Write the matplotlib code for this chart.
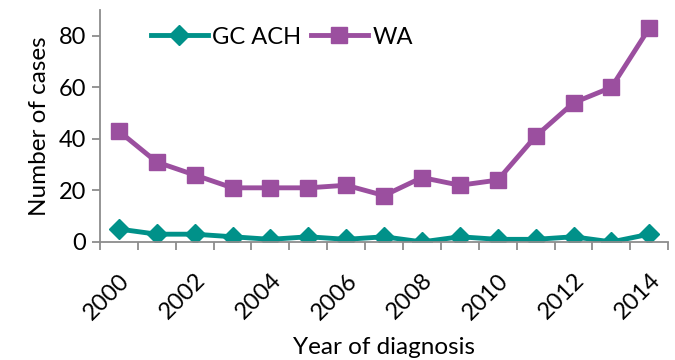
import matplotlib
matplotlib.use("Agg")
import matplotlib.pyplot as plt
from matplotlib.ticker import FixedLocator

plt.rcParams['font.family'] = ['Lato', 'DejaVu Sans']

years = list(range(2000, 2015))
gc_ach = [5, 3, 3, 2, 1, 2, 1, 2, 0, 2, 1, 1, 2, 0, 3]
wa = [43, 31, 26, 21, 21, 21, 22, 18, 25, 22, 24, 41, 54, 60, 83]
tick_labels = [str(y) for y in years[::2]]

teal = "#009189"
purple = "#9B4F9F"
axis_grey = "#8c8c8c"

fig = plt.figure(figsize=(6.75, 3.6), dpi=100)
ax = fig.add_axes([0.148, 0.328, 0.842, 0.644])

x = list(range(len(years)))
ax.plot(x, gc_ach, color=teal, lw=3.5, marker="D", ms=10, label="GC ACH")
ax.plot(x, wa, color=purple, lw=3.5, marker="s", ms=11, label="WA")

ax.set_xlim(-0.5, len(years) - 0.5)
ax.set_ylim(0, 90)
ax.set_yticks([0, 20, 40, 60, 80])

ax.set_xticks(x[::2])
ax.set_xticklabels(tick_labels, rotation=45, ha="right", rotation_mode="anchor")
ax.xaxis.set_minor_locator(FixedLocator([i - 0.5 for i in range(len(years) + 1)]))
ax.tick_params(axis="x", which="major", length=0, pad=20, labelsize=17)
ax.tick_params(axis="x", which="minor", length=6, width=1.3, color=axis_grey, direction="out")
ax.tick_params(axis="y", length=6, width=1.3, color=axis_grey, labelsize=17, pad=4)

for s in ("top", "right"):
    ax.spines[s].set_visible(False)
for s in ("left", "bottom"):
    ax.spines[s].set_color(axis_grey)
    ax.spines[s].set_linewidth(1.3)

ax.set_ylabel("Number of cases", fontsize=17.5, labelpad=6)
ax.set_xlabel("Year of diagnosis", fontsize=17.5, labelpad=10)

ax.legend(loc="upper left", bbox_to_anchor=(0.065, 0.99), ncol=2, frameon=False,
          fontsize=17, handlelength=2.4, columnspacing=0.4, handletextpad=0.2,
          borderaxespad=0.2)

fig.savefig("out.png", dpi=100)
